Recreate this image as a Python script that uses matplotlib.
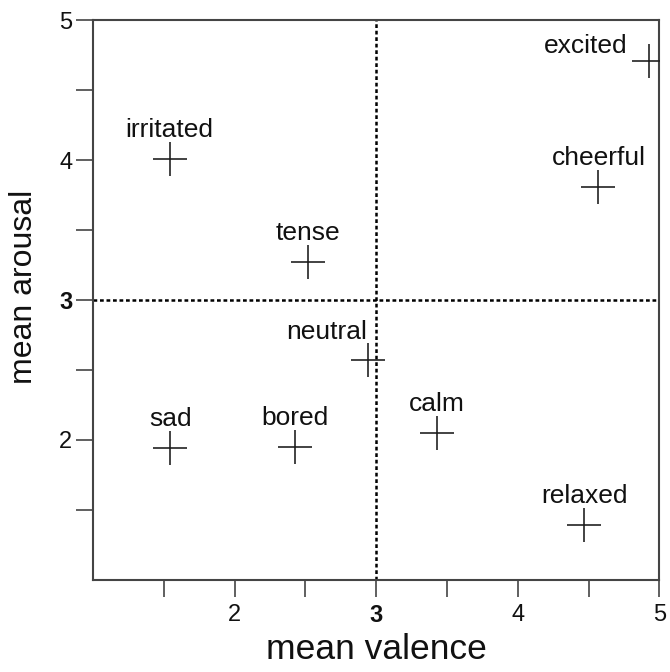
import matplotlib.pyplot as plt
from matplotlib.ticker import FuncFormatter

plt.rcParams['font.family'] = ['Liberation Sans', 'DejaVu Sans']

# Mean valence / arousal ratings per mood word
moods = ["irritated", "tense", "excited", "cheerful", "neutral",
         "sad", "bored", "calm", "relaxed"]
valence = [1.54, 2.52, 4.93, 4.57, 2.94, 1.545, 2.425, 3.43, 4.47]
arousal = [4.01, 3.27, 4.71, 3.81, 2.57, 1.94, 1.95, 2.05, 1.39]

# Midpoint of the rating scale
MID = 3

# label offsets in pixels (default: centred above the marker)
label_offsets = {
    "excited": (-64, 8),
    "neutral": (-41, 21),
}

fig = plt.figure(figsize=(6.7, 6.72), dpi=100)
ax = fig.add_axes([0.139, 0.137, 0.845, 0.833])

ax.axvline(MID, color='black', lw=1.8, linestyle=(0, (1.5, 1.1)), zorder=1)
ax.axhline(MID, color='black', lw=1.8, linestyle=(0, (1.5, 1.1)), zorder=1)

ax.plot(valence, arousal, linestyle='none', marker='+', markersize=24,
        markeredgewidth=1.2, color='#222222', zorder=3)

for name, x, y in zip(moods, valence, arousal):
    dx, dy = label_offsets.get(name, (0, 22))
    ax.annotate(name, (x, y), xytext=(dx, dy), textcoords='offset pixels',
                ha='center', va='baseline', fontsize=19, color='#111111')

ax.set_xlim(1, 5)
ax.set_ylim(1, 5)

ticks = [1.5, 2, 2.5, 3, 3.5, 4, 4.5, 5]
ax.set_xticks(ticks)
ax.set_yticks(ticks)


def fmt(v, pos):
    return f"{int(v)}" if v == int(v) else ""


ax.xaxis.set_major_formatter(FuncFormatter(fmt))
ax.yaxis.set_major_formatter(FuncFormatter(fmt))

ax.tick_params(axis='both', direction='out', length=12, width=1.2,
               color='#444444', labelsize=17, labelcolor='#111111')
ax.tick_params(axis='x', pad=5)
ax.tick_params(axis='y', pad=3)

for lbl in ax.get_xticklabels() + ax.get_yticklabels():
    if lbl.get_text() == "3":
        lbl.set_fontweight('bold')

for sp in ax.spines.values():
    sp.set_color('#444444')
    sp.set_linewidth(1.5)

ax.set_xlabel("mean valence", fontsize=25.5, labelpad=5, color='#111111')
ax.set_ylabel("mean arousal", fontsize=23, labelpad=9, color='#111111')
ax.yaxis.set_label_coords(-0.095, 0.523)

fig.savefig("out.png", dpi=100)
